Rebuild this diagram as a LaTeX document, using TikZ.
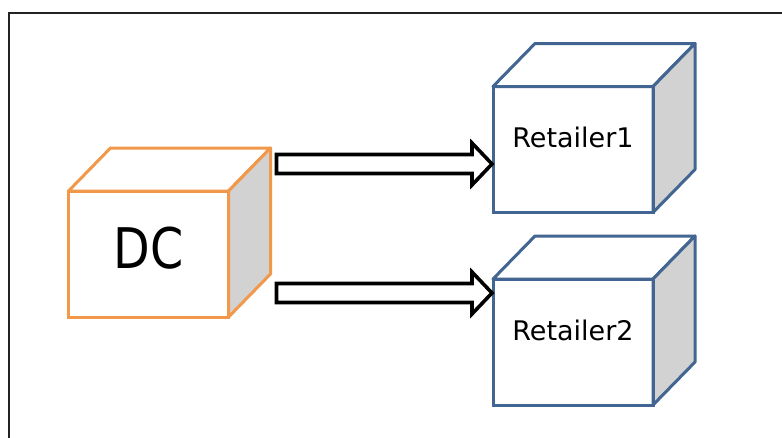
\documentclass[tikz,border=0pt]{standalone}
\usepackage{fontspec}
\setmainfont{DejaVu Sans}
\usetikzlibrary{calc}

\definecolor{dcorange}{RGB}{242,152,74}
\definecolor{retblue}{RGB}{66,101,146}
\definecolor{sidegray}{RGB}{210,210,210}
\definecolor{framegray}{RGB}{35,35,35}

\tikzset{
  face/.style={draw, line width=3pt, fill=white, minimum width=160pt,
    minimum height=126pt, inner sep=0pt, outer sep=0pt},
  dcface/.style={face, draw=dcorange},
  retface/.style={face, draw=retblue},
  blockarrow/.style={draw=black, fill=white, line width=3.6pt, line join=miter},
  retlabel/.style={font=\fontsize{27}{30}\selectfont, inner sep=0pt},
  dclabel/.style={font=\fontsize{56}{60}\selectfont, inner sep=0pt}
}

% box with top and shaded side faces behind a front face node
\newcommand{\cubebox}[2]{%
  \draw[#2, line width=3pt, fill=white, line join=round]
    (#1.north west) -- ++(42,-43) -- ($(#1.north east)+(42,-43)$)
    -- (#1.north east) -- cycle;
  \draw[#2, line width=3pt, fill=sidegray, line join=round]
    (#1.north east) -- ++(42,-43) -- ($(#1.south east)+(42,-43)$)
    -- (#1.south east) -- cycle;
  \draw[#2, line width=3pt, line join=round]
    (#1.north west) rectangle (#1.south east);
}

% hollow block arrow from #1 to #2
\newcommand{\fatarrow}[2]{%
  \draw[blockarrow] let \p1=(#1), \p2=(#2) in
    (\x1,\y1+9.5pt) -- (\x2-20pt,\y1+9.5pt) -- (\x2-20pt,\y1+21pt)
    -- (\x2,\y1) -- (\x2-20pt,\y1-21pt) -- (\x2-20pt,\y1-9.5pt)
    -- (\x1,\y1-9.5pt) -- cycle;
}

\begin{document}
\begin{tikzpicture}[x=1pt, y=-1pt]
  \clip (0,0) rectangle (782,437);
  \fill[white] (0,0) rectangle (782,437);

  % outer frame
  \draw[framegray, line width=2.6pt] (9,13) rectangle (800,460);

  % front faces
  \node[dcface]  (dc) at (148.5,254) {};
  \node[retface] (r1) at (573,149.5) {};
  \node[retface] (r2) at (573,342) {};

  \cubebox{dc}{dcorange}
  \cubebox{r1}{retblue}
  \cubebox{r2}{retblue}

  % labels
  \node[dclabel]  (dct) at ($(dc.center)+(0,-6)$) {\scalebox{0.85}[1]{DC}};
  \node[retlabel] (r1t) at ($(r1.center)+(0,-12)$) {Retailer1};
  \node[retlabel] (r2t) at ($(r2.center)+(0,-12)$) {Retailer2};

  % flows from DC to the retailers
  \coordinate (a1s) at ($(dc.north east)+(48,-27)$);
  \coordinate (a1e) at ($(r1.west |- a1s)+(-1,0)$);
  \coordinate (a2s) at ($(dc.south east)+(48,-24)$);
  \coordinate (a2e) at ($(r2.west |- a2s)+(-1,0)$);
  \fatarrow{a1s}{a1e}
  \fatarrow{a2s}{a2e}
\end{tikzpicture}
\end{document}
